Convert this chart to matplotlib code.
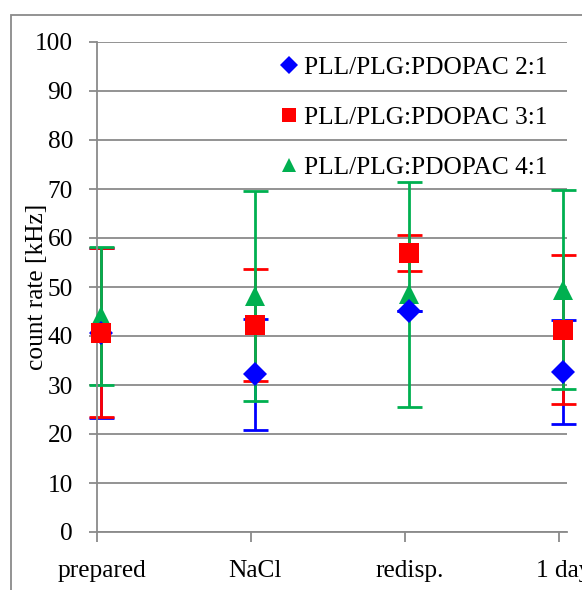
import numpy as np
import matplotlib
matplotlib.use('Agg')
import matplotlib.pyplot as plt
from matplotlib.patches import Rectangle

# data
categories = ['prepared', 'NaCl', 'redisp.', '1 day']
labels = ['PLL/PLG:PDOPAC 2:1', 'PLL/PLG:PDOPAC 3:1', 'PLL/PLG:PDOPAC 4:1']

rate_21 = [40.6, 32.2, 45.2, 32.7]
err_21 = [17.4, 11.3, 0.0, 10.6]
rate_31 = [40.7, 42.2, 56.9, 41.3]
err_31 = [17.2, 11.4, 3.7, 15.2]
rate_41 = [44.1, 48.2, 48.5, 49.4]
err_41 = [14.1, 21.4, 23.0, 20.3]

plt.rcParams['font.family'] = ['Liberation Serif', 'DejaVu Serif']
plt.rcParams['font.size'] = 18.3

W, H = 582, 590
fig = plt.figure(figsize=(W / 100, H / 100), dpi=100)
ax = fig.add_axes([96.7 / W, 1 - 532 / H, (567 - 96.7) / W, (532 - 42) / H])

grid_col = '#8a8a8a'
x = np.arange(len(categories))

series = [
    (rate_21, err_21, '#0000FF', 'D', 12.5, 5),
    (rate_31, err_31, '#FF0000', 's', 15, 6),
    (rate_41, err_41, '#00B050', '^', 15, 4),
]

# error bars first, all series
for i, (vals, errs, col, mk, ms, zo) in enumerate(series):
    ax.errorbar(x, vals, yerr=errs, fmt='none', ecolor=col, elinewidth=2,
                capsize=9, capthick=2, zorder=2 + i * 0.1, clip_on=False)

handles = []
for (vals, errs, col, mk, ms, zo), lab in zip(series, labels):
    h, = ax.plot(x, vals, linestyle='none', marker=mk, markersize=ms,
                 color=col, markeredgewidth=0, zorder=zo, clip_on=False,
                 label=lab)
    handles.append(h)

ax.set_ylim(0, 100)
ax.set_yticks(np.arange(0, 101, 10))
ax.set_xlim(-0.031, 3.024)
ax.yaxis.grid(True, color=grid_col, linewidth=1.3)
ax.set_axisbelow(True)

# labels centred under points, tick marks slightly left of them
ax.set_xticks(x)
ax.set_xticklabels(categories)
ax.set_xticks(x - 0.031, minor=True)
ax.tick_params(axis='x', which='major', length=0, pad=20)
ax.tick_params(axis='x', which='minor', length=7, width=1.3, color=grid_col, direction='out')
ax.tick_params(axis='y', length=6, width=1.3, color=grid_col, pad=11)

for s in ['top', 'right']:
    ax.spines[s].set_visible(False)
for s in ['left', 'bottom']:
    ax.spines[s].set_color(grid_col)
    ax.spines[s].set_linewidth(1.3)

ax.set_ylabel('count rate [kHz]')
ax.yaxis.set_label_coords(-0.103, 0.5)

leg = ax.legend(handles=handles, loc='upper left',
                bbox_to_anchor=(281 / W, 1 - 56 / H), bbox_transform=fig.transFigure,
                frameon=False, markerscale=0.7, handlelength=0.6,
                handletextpad=0.3, labelspacing=1.08, borderpad=0, borderaxespad=0)

# outer frame of the original figure, cut by the image edge
fig.patches.append(Rectangle((11 / W, -0.1), 1.2, 1.1 - 14.7 / H,
                             transform=fig.transFigure, fill=False,
                             edgecolor=grid_col, linewidth=1.3))

fig.savefig('out.png', dpi=100)
